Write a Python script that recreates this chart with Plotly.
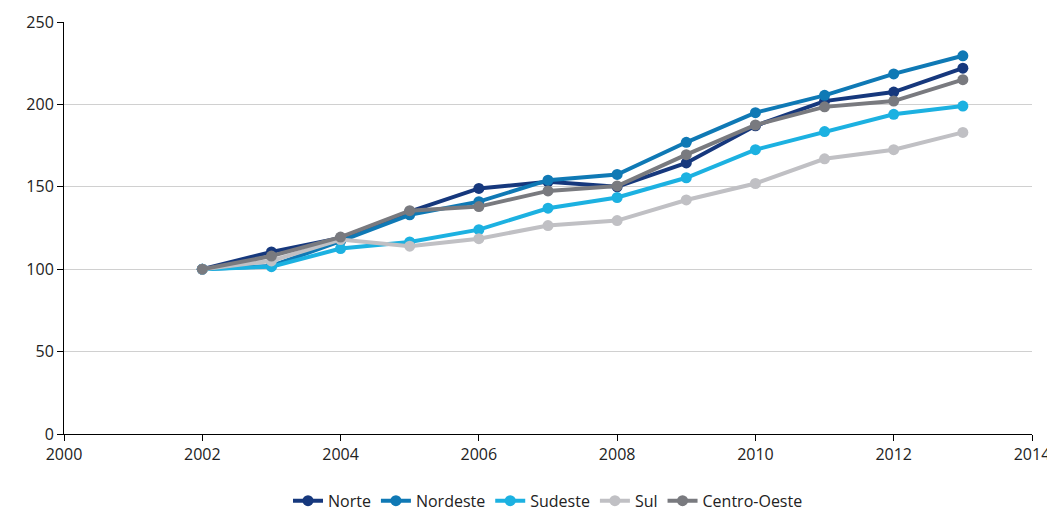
import plotly.graph_objects as go

years = list(range(2002, 2014))
norte = [100, 110.5, 119, 135, 149, 153, 150, 164.5, 187, 202, 207.5, 222]
nordeste = [100, 102, 117, 133, 141, 154, 157.5, 177, 195, 205.5, 218.5, 229.5]
sudeste = [100, 101.5, 112.5, 116.5, 124, 137, 143.5, 155.5, 172.5, 183.5, 194, 199]
sul = [100, 105, 118, 114, 118.5, 126.5, 129.5, 142, 152, 167, 172.5, 183]
centro = [100, 108, 119.5, 135.5, 138, 147.5, 150.5, 169.5, 187.5, 198.5, 202, 215]

series = [("Norte", norte, "#16387d"), ("Nordeste", nordeste, "#0f79b5"),
          ("Sudeste", sudeste, "#1cb1e1"), ("Sul", sul, "#c0c0c4"),
          ("Centro-Oeste", centro, "#797a7f")]

fig = go.Figure()
for name, vals, col in series:
    fig.add_trace(go.Scatter(x=years, y=vals, name=name, mode='lines+markers',
                             line=dict(color=col, width=4), marker=dict(size=11, color=col)))

fig.update_layout(
    width=1055, height=516, plot_bgcolor='white', paper_bgcolor='white',
    margin=dict(l=56, r=31, t=14, b=90),
    font=dict(family='Open Sans', size=16, color='#222'),
    legend=dict(orientation='h', x=0.5, xanchor='center', yref='container', y=0.045,
                yanchor='middle', font=dict(size=16)),
    xaxis=dict(range=[2000, 2014], dtick=2, showline=True, linecolor='black', ticks='outside',
               ticklen=6, tickcolor='black', showgrid=False, automargin=False),
    yaxis=dict(range=[0, 250], dtick=50, showline=True, linecolor='black', ticks='outside',
               ticklen=6, tickcolor='black', gridcolor='#d0d0d0', zeroline=False, automargin=False),
)
fig.write_html("out.html")
